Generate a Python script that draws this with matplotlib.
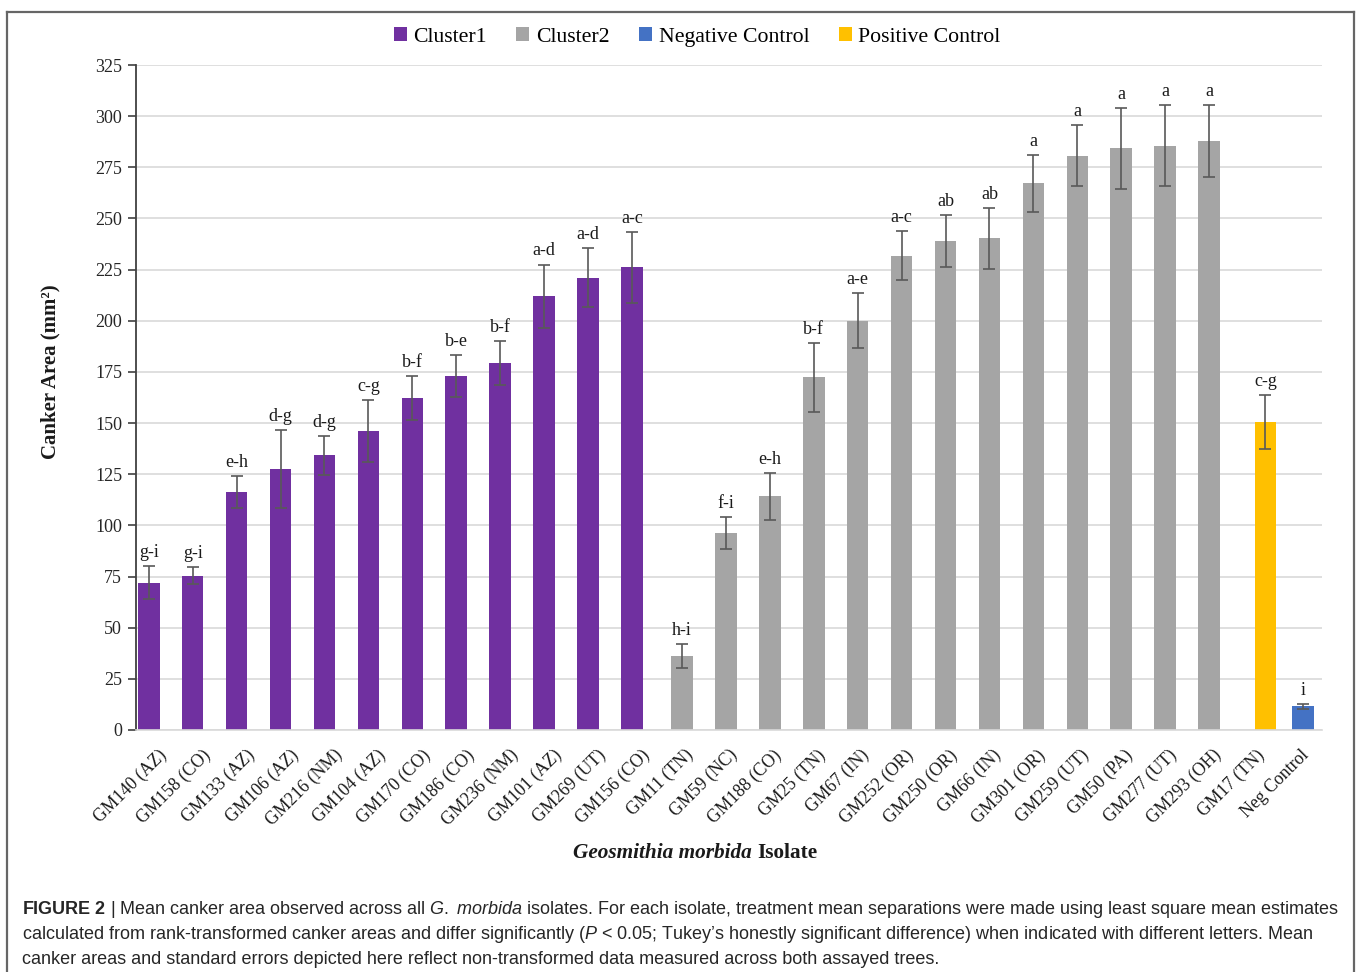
import matplotlib
matplotlib.use('Agg')
import matplotlib.pyplot as plt
from matplotlib import font_manager
from matplotlib.patches import Patch
from matplotlib.lines import Line2D
from matplotlib.transforms import ScaledTranslation
import numpy as np

# ---- data ----
isolates = ['GM140 (AZ)', 'GM158 (CO)', 'GM133 (AZ)', 'GM106 (AZ)', 'GM216 (NM)',
            'GM104 (AZ)', 'GM170 (CO)', 'GM186 (CO)', 'GM236 (NM)', 'GM101 (AZ)',
            'GM269 (UT)', 'GM156 (CO)',
            'GM11 (TN)', 'GM59 (NC)', 'GM188 (CO)', 'GM25 (TN)', 'GM67 (IN)',
            'GM252 (OR)', 'GM250 (OR)', 'GM66 (IN)', 'GM301 (OR)', 'GM259 (UT)',
            'GM50 (PA)', 'GM277 (UT)', 'GM293 (OH)',
            'GM17 (TN)', 'Neg Control']
groups = ['Cluster1'] * 12 + ['Cluster2'] * 13 + ['Positive Control', 'Negative Control']
means = [72.0, 75.5, 116.5, 127.7, 134.2, 146.1, 162.4, 173.1, 179.4, 211.9, 221.0, 226.1,
         36.3, 96.4, 114.2, 172.3, 200.0, 231.8, 239.0, 240.3, 267.2, 280.7, 284.3, 285.6, 287.9,
         150.4, 11.5]
errors = [8.0, 4.0, 7.8, 19.0, 9.4, 15.0, 10.8, 10.3, 10.7, 15.6, 14.5, 17.3,
          5.8, 7.7, 11.4, 16.7, 13.5, 12.0, 12.8, 15.0, 13.8, 15.0, 19.8, 19.7, 17.6,
          13.2, 1.2]
letters = ['g-i', 'g-i', 'e-h', 'd-g', 'd-g', 'c-g', 'b-f', 'b-e', 'b-f', 'a-d', 'a-d', 'a-c',
           'h-i', 'f-i', 'e-h', 'b-f', 'a-e', 'a-c', 'ab', 'ab', 'a', 'a', 'a', 'a', 'a',
           'c-g', 'i']
series_names = ['Cluster1', 'Cluster2', 'Negative Control', 'Positive Control']
series_colors = ['#7030A0', '#A5A5A5', '#4472C4', '#FFC000']
yticks = list(range(0, 326, 25))


def pick_font(names):
    for n in names:
        try:
            font_manager.findfont(font_manager.FontProperties(family=n), fallback_to_default=False)
            return n
        except Exception:
            continue
    return 'DejaVu Sans'


serif = pick_font(['Liberation Serif', 'DejaVu Serif'])
caption_font = pick_font(['Liberation Sans Narrow', 'Liberation Sans', 'DejaVu Sans'])
caption_size = 15.3 if caption_font == 'Liberation Sans Narrow' else 13.0

plt.rcParams['font.family'] = [serif]
plt.rcParams['mathtext.fontset'] = 'custom'
plt.rcParams['mathtext.rm'] = caption_font
plt.rcParams['mathtext.it'] = caption_font + ':italic'
plt.rcParams['mathtext.bf'] = caption_font + ':bold'

fig = plt.figure(figsize=(13.58, 9.72), dpi=100)
ax = fig.add_axes([136 / 1358, 1 - 730 / 972, (1322 - 136) / 1358, (730 - 65) / 972])

x = np.arange(len(isolates))
step = 0.14
width = 0.49
for name, color in zip(series_names, series_colors):
    k = series_names.index(name)
    idx = [i for i, g in enumerate(groups) if g == name]
    xs = x[idx] + (k - 1.5) * step
    ys = [means[i] for i in idx]
    es = [errors[i] for i in idx]
    ax.bar(xs, ys, width, color=color, zorder=2)
    ax.errorbar(xs, ys, yerr=es, fmt='none', ecolor='#595959', elinewidth=1.2,
                capsize=4.5, capthick=1.2, zorder=3)
    for xi, yi, ei, i in zip(xs, ys, es, idx):
        ax.annotate(letters[i], xy=(xi, yi + ei), xytext=(0, 6.5), textcoords='offset points',
                    ha='center', va='baseline', fontsize=13, color='#1a1a1a')

ax.set_xlim(-0.5, len(isolates) - 0.5)
ax.set_ylim(0, 325)
ax.set_yticks(yticks)
ax.tick_params(axis='y', labelsize=13, length=6, width=1.2, color='#404040',
               labelcolor='#262626', pad=4)
ax.set_xticks(x)
ax.set_xticklabels(isolates, rotation=45, ha='right', va='center', rotation_mode='anchor',
                   fontsize=12.8, color='#1a1a1a')
ax.tick_params(axis='x', length=0, pad=14)
shift = ScaledTranslation(6 / 100, -3 / 100, fig.dpi_scale_trans)
for lbl in ax.get_xticklabels():
    lbl.set_transform(lbl.get_transform() + shift)
ax.grid(True, axis='y', color='#D9D9D9', linewidth=1.2, zorder=0)
ax.set_axisbelow(True)
for s in ['top', 'right']:
    ax.spines[s].set_visible(False)
ax.spines['left'].set_color('#404040')
ax.spines['left'].set_linewidth(1.3)
ax.spines['bottom'].set_color('#D9D9D9')
ax.spines['bottom'].set_linewidth(1.2)

# axis titles
fig.text(50 / 1358, 1 - 372 / 972, 'Canker Area (mm\u00b2)', rotation=90, ha='center',
         va='center', fontsize=15, fontweight='bold', color='#1a1a1a')
fig.text(752 / 1358, 1 - 853 / 972, 'Geosmithia morbida', ha='right', va='center',
         fontsize=15.3, fontweight='bold', fontstyle='italic', color='#1a1a1a')
fig.text(757 / 1358, 1 - 853 / 972, 'Isolate', ha='left', va='center',
         fontsize=15.3, fontweight='bold', color='#1a1a1a')

# legend
handles = [Patch(facecolor=c, edgecolor='none', label=n) for n, c in zip(series_names, series_colors)]
fig.legend(handles=handles, loc='center', bbox_to_anchor=(697 / 1358, 1 - 37 / 972), ncol=4,
           frameon=False, fontsize=15.7, handlelength=0.6, handleheight=0.6,
           handletextpad=0.3, columnspacing=1.35)

# figure frame (open at the bottom)
frame_kw = dict(color='#666666', linewidth=1.6, transform=fig.transFigure)
fig.add_artist(Line2D([7 / 1358, 7 / 1358], [0, 1 - 12 / 972], **frame_kw))
fig.add_artist(Line2D([1354 / 1358, 1354 / 1358], [0, 1 - 12 / 972], **frame_kw))
fig.add_artist(Line2D([7 / 1358, 1354 / 1358], [1 - 12 / 972, 1 - 12 / 972], **frame_kw))

# caption
cap_lines = [
    r'$\mathbf{FIGURE\ 2}$ | Mean canker area observed across all $\mathit{G.\ morbida}$ isolates. '
    'For each isolate, treatment mean separations were made using least square mean estimates',
    r'calculated from rank-transformed canker areas and differ significantly ($\mathit{P}$ < 0.05; '
    'Tukey\u2019s honestly significant difference) when indicated with different letters. Mean',
    'canker areas and standard errors depicted here reflect non-transformed data measured across '
    'both assayed trees.',
]
for j, line in enumerate(cap_lines):
    fig.text(22 / 1358, 1 - (914 + 25 * j) / 972, line, ha='left', va='baseline',
             fontsize=caption_size, family=caption_font, color='#262626')

fig.savefig('out.png', dpi=100)
